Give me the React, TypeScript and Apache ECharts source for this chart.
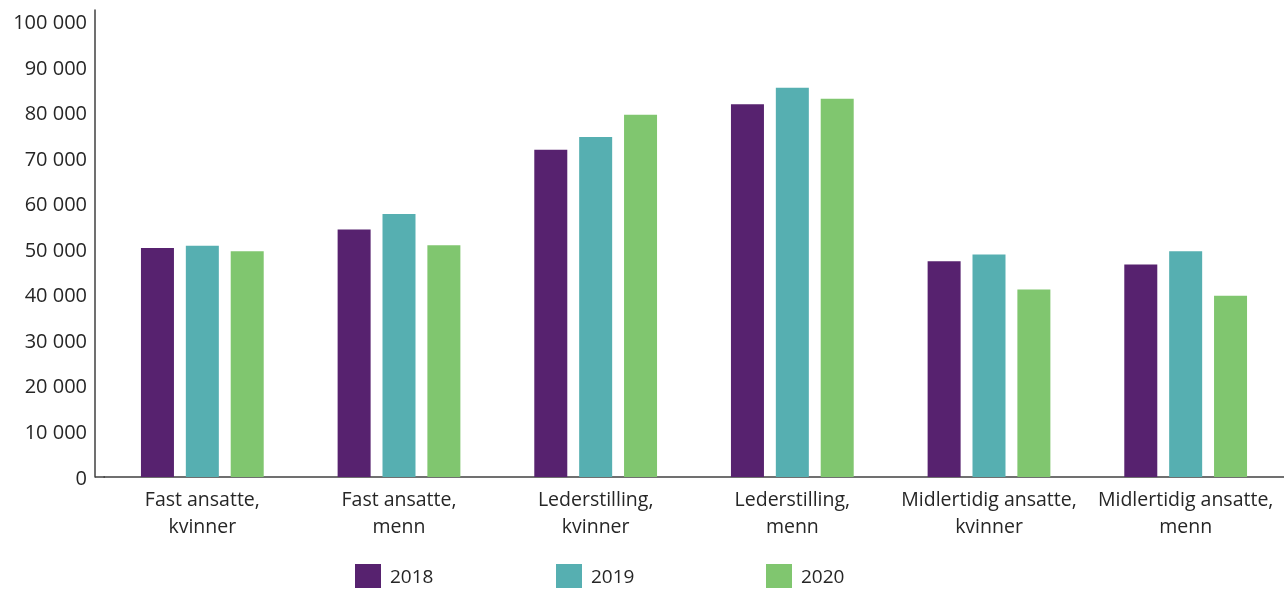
import React, { useEffect, useRef } from "react";
import * as echarts from "echarts";

const categories = [
  "Fast ansatte,\nkvinner",
  "Fast ansatte,\nmenn",
  "Lederstilling,\nkvinner",
  "Lederstilling,\nmenn",
  "Midlertidig ansatte,\nkvinner",
  "Midlertidig ansatte,\nmenn",
];
const seriesNames = ["2018", "2019", "2020"];
const values2018 = [50300, 54400, 71900, 81900, 47400, 46700];
const values2019 = [50800, 57800, 74700, 85500, 48900, 49600];
const values2020 = [49600, 50900, 79600, 83100, 41200, 39800];
const colors = ["#57226F", "#56AFB1", "#80C66F"];

const fmt = (v: number) => {
  if (v % 10000 !== 0) return "";
  return String(v).replace(/\B(?=(\d{3})+(?!\d))/g, " ");
};

export default function App() {
  const ref = useRef<HTMLDivElement>(null);
  useEffect(() => {
    if (!ref.current) return;
    const chart = echarts.init(ref.current, null, { renderer: "svg" });
    const font = "'Open Sans', 'Noto Sans', sans-serif";
    const data = [values2018, values2019, values2020];
    const legendLefts = [355, 556, 766];
    chart.setOption({
      animation: false,
      textStyle: { fontFamily: font },
      grid: { left: 104, right: 0, top: 10, bottom: 112, containLabel: false },
      legend: seriesNames.map((name, i) => ({
        left: legendLefts[i],
        top: 564,
        padding: 0,
        itemWidth: 26,
        itemHeight: 24,
        icon: "rect",
        textStyle: {
          fontSize: 19,
          lineHeight: 20,
          color: "#262626",
          fontFamily: font,
          padding: [0, 0, 0, 4],
        },
        data: [name],
      })),
      xAxis: {
        type: "category",
        data: categories,
        axisLine: { show: true, lineStyle: { color: "#404040", width: 1.5 } },
        axisTick: { show: false },
        axisLabel: {
          interval: 0,
          margin: 8,
          fontSize: 19.5,
          lineHeight: 27,
          color: "#262626",
          fontFamily: font,
        },
      },
      yAxis: {
        type: "value",
        min: 0,
        max: 102600,
        interval: 10000,
        offset: 9,
        splitLine: { show: false },
        axisLine: { show: true, lineStyle: { color: "#404040", width: 1.5 } },
        axisTick: { show: false },
        axisLabel: {
          margin: 8,
          fontSize: 20,
          color: "#262626",
          fontFamily: font,
          formatter: (v: number) => fmt(v),
          showMaxLabel: false,
        },
      },
      graphic: [
        {
          type: "line",
          shape: { x1: 95, y1: 477, x2: 105, y2: 477 },
          style: { stroke: "#404040", lineWidth: 1.5 },
        },
      ],
      series: seriesNames.map((name, i) => ({
        name,
        type: "bar",
        data: data[i],
        barWidth: 33,
        barGap: "36%",
        itemStyle: { color: colors[i] },
      })),
    });
    return () => chart.dispose();
  }, []);
  return (
    <div
      ref={ref}
      style={{ position: "fixed", left: 0, top: 0, width: 1284, height: 589 }}
    />
  );
}
